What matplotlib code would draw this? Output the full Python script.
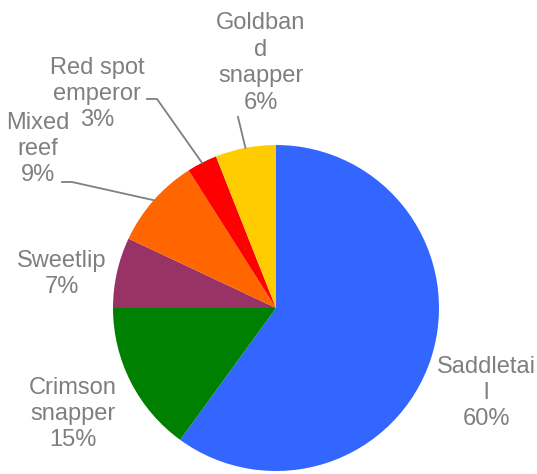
import numpy as np
import matplotlib
matplotlib.use("Agg")
import matplotlib.pyplot as plt

# catch share by species
names = ["Saddletai\nl", "Crimson\nsnapper", "Sweetlip", "Mixed\nreef",
         "Red spot\nemperor", "Goldban\nd\nsnapper"]
values = [60, 15, 7, 9, 3, 6]
colors = ["#3366FF", "#008000", "#993366", "#FF6600", "#FF0000", "#FFCC00"]

W, H = 537, 474
cx, cy, r = 276, H - 308, 163
text_color = "#7F7F7F"

plt.rcParams["font.family"] = ["Liberation Sans", "DejaVu Sans"]
fig = plt.figure(figsize=(W / 100, H / 100), dpi=100)
ax = fig.add_axes([0, 0, 1, 1])

wedges, _ = ax.pie(values, colors=colors, startangle=90, counterclock=False,
                   center=(cx, cy), radius=r, frame=True)
ax.set_xlim(0, W)
ax.set_ylim(0, H)
ax.set_aspect("equal")
ax.axis("off")

total = sum(values)
# label centres (pixels, from top) and leader style
label_pos = [(486, 393), (73, 414), (62, 274), (38, 149), (97, 94), (261, 63)]
leaders = [None, None, None, [(62, 182), (72, 182)], [(147, 99), (157, 99)], [(238, 117)]]

for i, w in enumerate(wedges):
    pct = round(100 * values[i] / total)
    lx, ly = label_pos[i]
    ax.text(lx, H - ly, f"{names[i]}\n{pct}%", ha="center", va="center",
            fontsize=17, color=text_color, linespacing=1.26)
    if leaders[i] is not None:
        mid = np.deg2rad((w.theta1 + w.theta2) / 2)
        ex, ey = cx + r * np.cos(mid), cy + r * np.sin(mid)
        xs = [p[0] for p in leaders[i]] + [ex]
        ys = [H - p[1] for p in leaders[i]] + [ey]
        ax.plot(xs, ys, color=text_color, lw=1.3)

fig.savefig("out.png", dpi=100)
